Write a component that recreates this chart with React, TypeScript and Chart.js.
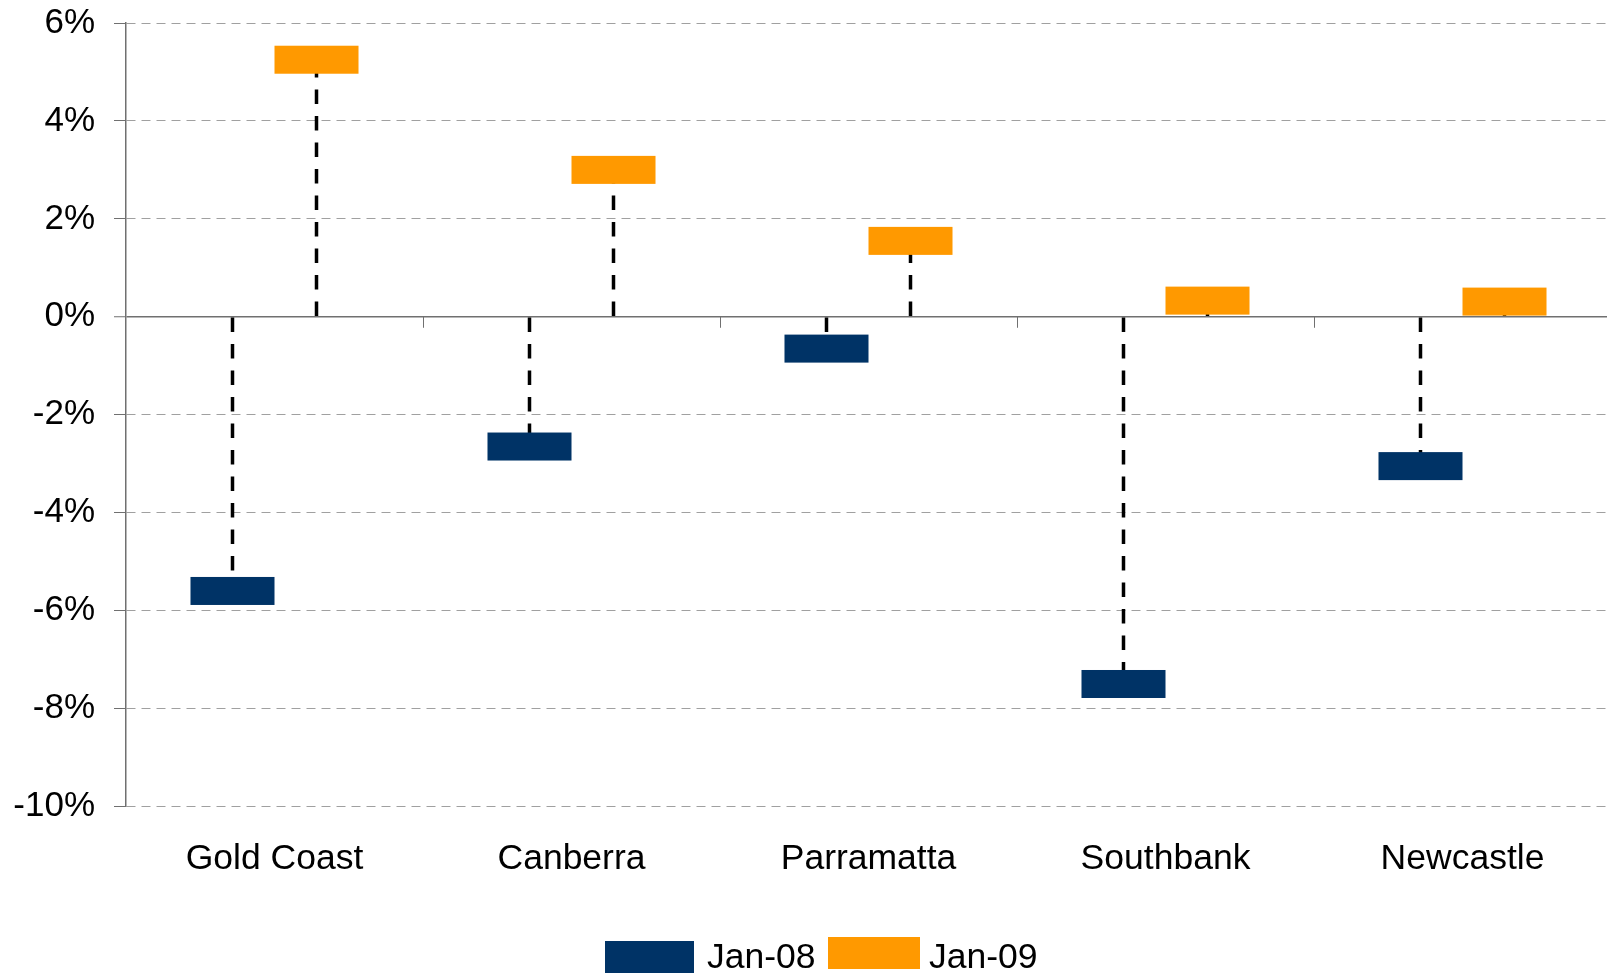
import React, { useEffect, useRef } from "react";
import { Chart, registerables } from "chart.js";

Chart.register(...registerables);

const categories = ["Gold Coast", "Canberra", "Parramatta", "Southbank", "Newcastle"];
const seriesNames = ["Jan-08", "Jan-09"];
const jan08 = [-5.6, -2.65, -0.65, -7.5, -3.05];
const jan09 = [5.25, 3.0, 1.55, 0.33, 0.31];
const seriesColors = ["#003366", "#FF9900"];
const yMin = -10;
const yMax = 6;
const yStep = 2;

const FONT = "'Liberation Sans', Arial, Helvetica, sans-serif";

const markerPlugin = {
  id: "dropMarkers",
  afterDatasetsDraw(chart: any) {
    const ctx = chart.ctx;
    const xScale = chart.scales.x;
    const yScale = chart.scales.y;
    const zeroY = yScale.getPixelForValue(0);
    ctx.save();
    // category separator ticks on the zero line
    ctx.strokeStyle = "#707070";
    ctx.lineWidth = 1;
    ctx.setLineDash([]);
    for (let i = 1; i < categories.length; i++) {
      const bx = (xScale.getPixelForValue(i - 1) + xScale.getPixelForValue(i)) / 2;
      const px = Math.round(bx) + 0.5;
      ctx.beginPath();
      ctx.moveTo(px, zeroY);
      ctx.lineTo(px, zeroY + 11);
      ctx.stroke();
    }
    chart.data.datasets.forEach((ds: any, di: number) => {
      const meta = chart.getDatasetMeta(di);
      meta.data.forEach((el: any) => {
        const { x, y, base, width } = el.getProps(["x", "y", "base", "width"], true);
        ctx.setLineDash([14.5, 12]);
        ctx.lineWidth = 3.5;
        ctx.strokeStyle = "#000000";
        ctx.beginPath();
        ctx.moveTo(x, base);
        ctx.lineTo(x, y);
        ctx.stroke();
        ctx.setLineDash([]);
        ctx.fillStyle = seriesColors[di];
        ctx.fillRect(x - width / 2, y - 14, width, 28);
      });
    });
    ctx.restore();
  },
};

export default function App() {
  const canvasRef = useRef<HTMLCanvasElement | null>(null);

  useEffect(() => {
    document.body.style.margin = "0";
    const canvas = canvasRef.current;
    if (!canvas) return;
    const chart = new Chart(canvas, {
      type: "bar",
      data: {
        labels: categories,
        datasets: [
          {
            label: seriesNames[0],
            data: jan08,
            backgroundColor: "rgba(0,0,0,0)",
            borderWidth: 0,
            categoryPercentage: 0.5657,
            barPercentage: 1,
          },
          {
            label: seriesNames[1],
            data: jan09,
            backgroundColor: "rgba(0,0,0,0)",
            borderWidth: 0,
            categoryPercentage: 0.5657,
            barPercentage: 1,
          },
        ],
      },
      options: {
        responsive: false,
        animation: false,
        devicePixelRatio: 1,
        layout: { padding: { left: 0, right: 0, top: 23, bottom: 62 } },
        plugins: {
          legend: { display: false },
          tooltip: { enabled: false },
        },
        scales: {
          x: {
            offset: true,
            grid: { display: false, drawTicks: false },
            border: { display: false },
            ticks: {
              padding: 32,
              color: "#000000",
              font: { family: FONT, size: 35.5 },
              maxRotation: 0,
              autoSkip: false,
            },
          },
          y: {
            min: yMin,
            max: yMax,
            afterFit: (scale: any) => {
              scale.width = 126;
              scale.paddingTop = 0;
              scale.paddingBottom = 0;
            },
            ticks: {
              stepSize: yStep,
              padding: 19,
              color: "#000000",
              font: { family: FONT, size: 35 },
              callback: (v: any) => `${v}%`,
            },
            grid: {
              color: (c: any) => (c.tick && c.tick.value === 0 ? "#707070" : "#A0A0A0"),
              lineWidth: (c: any) => (c.tick && c.tick.value === 0 ? 1.5 : 1),
              tickLength: 12,
              tickColor: "#707070",
              tickWidth: 1,
              drawTicks: true,
            },
            border: {
              display: true,
              color: "#707070",
              width: 1.5,
              dash: (c: any) => (c.tick && c.tick.value === 0 ? [] : [9, 6]),
            },
          },
        },
      },
      plugins: [markerPlugin],
    } as any);
    return () => chart.destroy();
  }, []);

  const textStyle: React.CSSProperties = {
    position: "absolute",
    fontFamily: FONT,
    fontSize: 35.5,
    lineHeight: "36px",
    height: 36,
    top: 938,
    color: "#000000",
    whiteSpace: "nowrap",
  };

  return (
    <div
      style={{
        position: "fixed",
        left: 0,
        top: 0,
        width: 1607,
        height: 975,
        overflow: "hidden",
        background: "#ffffff",
      }}
    >
      <canvas ref={canvasRef} width={1611} height={975} style={{ display: "block" }} />
      <div style={{ position: "absolute", left: 605, top: 941, width: 89, height: 32, background: seriesColors[0] }} />
      <div style={{ ...textStyle, left: 707 }}>{seriesNames[0]}</div>
      <div style={{ position: "absolute", left: 828, top: 937, width: 92, height: 32, background: seriesColors[1] }} />
      <div style={{ ...textStyle, left: 929 }}>{seriesNames[1]}</div>
    </div>
  );
}
